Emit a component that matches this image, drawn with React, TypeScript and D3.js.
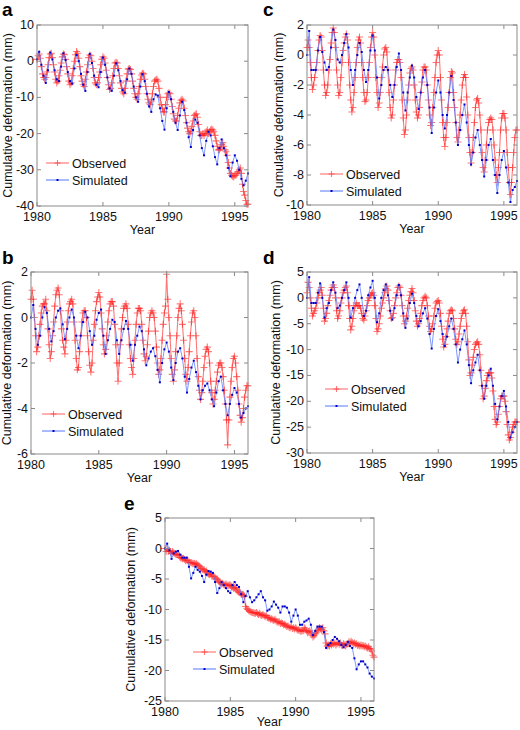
import React from "react";
import * as d3 from "d3";

// ---------- data ----------
const xTickYears = [1980, 1985, 1990, 1995];
const legendLabels = ["Observed", "Simulated"];
const yTitle = "Cumulative deformation (mm)";
const xTitle = "Year";

// observed: monthly from Jan 1980; simulated: bimonthly from Jan 1980
const obsA = [
  0.5, 1.5, 2.0, 0.8, -1.5, -3.5, -4.5, -5.0, -4.5, -3.0, -1.0, 1.0,
  2.0, 2.2, 1.0, -1.0, -3.0, -5.0, -6.0, -5.5, -4.0, -2.5, -0.5, 1.2,
  2.0, 1.8, 0.5, -1.5, -3.5, -5.5, -6.5, -6.0, -4.0, -2.0, 0.0, 1.8,
  2.7, 2.2, 0.8, -1.5, -4.0, -5.5, -6.5, -7.0, -5.0, -3.0, -1.0, 1.0,
  1.7, 1.5, 0.0, -2.0, -4.5, -6.0, -6.5, -6.0, -4.5, -3.0, -1.0, 0.5,
  1.2, 0.8, -0.5, -2.5, -4.5, -6.5, -7.8, -7.5, -6.0, -4.0, -2.0, -0.5,
  -0.3, -0.5, -2.0, -4.0, -6.0, -7.5, -8.5, -9.0, -7.5, -5.5, -3.5, -2.2,
  -2.0, -2.3, -3.5, -5.5, -7.5, -9.0, -10.0, -10.5, -9.0, -7.0, -5.0, -3.8,
  -3.3, -3.5, -5.0, -7.0, -9.0, -10.5, -11.5, -12.0, -11.0, -9.0, -7.0, -5.5,
  -5.2, -5.0, -5.5, -7.5, -10.0, -12.0, -13.0, -14.0, -14.0, -12.0, -10.0, -9.0,
  -8.7, -9.0, -10.5, -12.5, -14.5, -16.0, -16.5, -16.5, -15.0, -13.0, -11.5, -10.8,
  -10.5, -11.0, -13.0, -15.0, -17.0, -18.5, -19.5, -20.0, -19.5, -18.0, -16.5, -15.0,
  -14.8, -14.5, -15.5, -17.5, -19.5, -20.5, -20.5, -20.0, -20.5, -20.0, -19.5, -19.0,
  -20.0, -19.5, -19.0, -18.8, -19.0, -19.5, -20.5, -22.0, -23.5, -24.5, -24.5, -24.0,
  -23.0, -22.5, -23.5, -24.5, -25.0, -26.0, -28.0, -29.5, -31.0, -31.5, -31.8, -32.0,
  -31.5, -31.5, -31.0, -30.5, -30.0, -29.5, -31.0, -34.0, -36.0, -37.0, -38.5, -39.5,
  -39.5,
];
const simA = [
  0.5, 2.6, -1.0, -4.0, -6.0, -2.5,
  2.4, 0.5, -2.5, -5.0, -5.5, -1.5,
  2.2, 0.3, -3.0, -5.5, -6.2, -2.0,
  1.7, 0.0, -3.5, -6.5, -8.2, -3.0,
  2.0, -0.5, -4.0, -6.5, -7.2, -3.0,
  1.0, -1.0, -4.5, -7.5, -8.2, -4.0,
  -0.6, -2.5, -5.5, -8.0, -8.7, -5.0,
  -2.0, -3.5, -7.0, -10.0, -11.2, -7.0,
  -3.6, -5.5, -9.0, -12.5, -14.0, -10.5,
  -9.2, -9.5, -13.0, -16.5, -18.9, -13.0,
  -8.5, -10.5, -14.0, -17.0, -19.0, -15.0,
  -11.2, -13.5, -17.0, -21.0, -23.7, -19.0,
  -16.1, -17.0, -20.5, -24.0, -26.0, -22.0,
  -19.5, -20.5, -23.5, -26.5, -28.5, -24.0,
  -21.6, -24.0, -26.0, -29.5, -31.8, -28.0,
  -26.0, -27.5, -30.0, -32.5, -34.3, -33.0,
  -31.0,
];

const obsC = [
  0.5, 1.0, 0.5, -0.5, -1.5, -2.3, -2.0, -1.5, -1.0, -0.5, 0.3, 1.0,
  1.3, 1.2, 0.3, -1.0, -2.0, -2.7, -2.5, -2.0, -1.0, -0.3, 0.8, 1.5,
  1.8, 1.5, 0.5, -1.0, -2.0, -2.7, -2.5, -1.5, -0.5, 0.3, 0.8, 1.2,
  1.4, 1.0, -0.5, -2.0, -3.0, -3.8, -3.5, -2.5, -1.5, -0.5, 0.5, 1.0,
  1.2, 0.8, -0.5, -1.5, -2.5, -3.1, -3.0, -2.5, -1.5, -0.5, 0.5, 1.2,
  1.5, 1.2, 0.0, -1.5, -2.5, -3.5, -3.2, -2.5, -1.5, -0.8, 0.0, 0.4,
  0.5, 0.2, -1.0, -2.5, -3.5, -4.2, -4.0, -3.0, -2.0, -1.0, -0.5, -0.3,
  -0.3, -0.5, -1.5, -3.0, -4.2, -5.3, -5.0, -4.0, -3.0, -2.0, -1.2, -0.9,
  -0.8, -1.0, -2.0, -3.0, -3.8, -4.2, -4.0, -3.5, -2.5, -1.8, -1.0, -0.8,
  -0.8, -1.0, -2.0, -3.0, -4.0, -4.7, -4.5, -3.5, -2.5, -1.5, -0.5, 0.0,
  0.3, 0.0, -1.5, -3.0, -4.5, -5.5, -6.1, -5.5, -4.5, -3.5, -2.5, -1.5,
  -1.1, -1.2, -2.5, -3.5, -4.5, -5.5, -5.8, -5.0, -4.0, -3.0, -2.0, -1.5,
  -1.3, -1.5, -2.8, -4.0, -5.5, -6.5, -7.2, -6.5, -5.5, -4.5, -3.5, -3.0,
  -2.9, -3.2, -4.0, -5.0, -6.5, -7.5, -7.8, -7.0, -6.0, -5.0, -4.5, -4.3,
  -4.2, -4.3, -5.0, -6.0, -7.0, -8.0, -8.5, -7.5, -6.5, -5.0, -4.2, -3.9,
  -3.9, -4.2, -5.0, -6.5, -7.5, -8.5, -9.3, -8.5, -7.5, -6.5, -5.5, -5.0,
  -5.0,
];
const simC = [
  0.0, 1.6, -1.0, -1.0, -1.0, 0.3,
  1.2, 0.2, -0.5, -1.0, -0.8, 0.5,
  1.7, 1.0, -0.3, -0.5, 0.0, 0.8,
  1.4, 0.5, -1.0, -2.0, -1.0, 0.0,
  0.8, 0.2, -1.0, -1.8, -1.0, 0.3,
  1.3, 0.3, -1.5, -2.9, -2.0, -1.0,
  -0.8, -1.0, -2.0, -2.8, -2.0, -0.8,
  0.1, -1.0, -2.5, -3.7, -2.5, -1.5,
  -0.7, -1.5, -2.8, -3.6, -2.5, -1.5,
  -1.0, -2.0, -3.5, -5.2, -3.5, -2.5,
  -1.7, -2.5, -4.0, -4.9, -4.0, -2.5,
  -1.4, -3.0, -4.5, -6.0, -5.0, -4.0,
  -3.3, -4.5, -6.0, -7.3, -6.5, -5.5,
  -5.0, -6.0, -7.0, -8.1, -7.0, -6.0,
  -5.6, -7.0, -8.0, -9.2, -8.0, -7.0,
  -6.4, -7.5, -8.5, -9.8, -9.0, -8.8,
  -8.4,
];

const obsB = [
  0.8, 1.2, 0.8, 0.0, -0.8, -1.5, -1.3, -0.8, -0.3, 0.2, 0.5, 0.6,
  0.6, 0.8, 0.3, -0.5, -1.2, -1.8, -1.5, -0.8, -0.2, 0.5, 1.0, 1.2,
  1.3, 1.0, 0.3, -0.5, -1.0, -1.3, -1.6, -1.0, -0.2, 0.3, 0.6, 0.7,
  0.8, 0.6, -0.2, -1.0, -1.8, -2.3, -2.2, -1.5, -0.8, -0.2, 0.2, 0.3,
  0.3, 0.0, -0.8, -1.5, -2.1, -2.4, -2.0, -1.0, -0.3, 0.3, 0.7, 0.9,
  1.1, 0.9, 0.2, -0.5, -1.2, -1.6, -1.4, -0.8, -0.2, 0.3, 0.6, 0.7,
  0.7, 0.5, -0.3, -1.2, -2.0, -2.8, -2.0, -1.2, -0.5, 0.0, 0.4, 0.5,
  0.6, 0.4, -0.3, -1.2, -1.8, -2.2, -2.5, -1.8, -1.0, -0.3, 0.2, 0.4,
  0.4, 0.3, -0.3, -1.0, -1.6, -1.9, -1.7, -1.2, -0.6, 0.0, 0.2, 0.3,
  0.2, 0.0, -0.6, -1.3, -2.0, -2.5, -2.3, -1.8, -1.0, -0.3, 0.2, 0.5,
  1.9, 0.8, 0.0, -0.8, -1.8, -2.5, -2.8, -2.3, -1.5, -0.8, 0.0, 0.4,
  0.6, 0.3, -0.3, -1.0, -1.8, -2.5, -2.8, -2.2, -1.5, -0.8, -0.2, 0.2,
  0.3, 0.0, -0.8, -1.8, -2.6, -3.2, -3.6, -3.3, -2.8, -2.2, -1.7, -1.4,
  -1.3, -1.5, -2.0, -2.8, -3.3, -3.8, -3.6, -3.2, -2.8, -2.4, -2.1, -2.0,
  -2.0, -2.2, -2.6, -3.2, -3.8, -4.5, -5.6, -4.5, -3.5, -2.8, -2.2, -1.8,
  -1.7, -2.0, -2.6, -3.2, -3.8, -4.3, -4.6, -4.4, -4.0, -3.5, -3.2, -3.0,
  -3.0,
];
const simB = [
  0.0, 0.55, -0.5, -1.2, -0.8, 0.0,
  0.45, 0.2, -0.5, -1.05, -0.6, 0.0,
  0.3, 0.4, -0.3, -0.95, -0.5, 0.0,
  0.35, 0.0, -0.8, -1.35, -0.8, -0.2,
  0.25, 0.0, -0.6, -1.2, -0.8, -0.1,
  0.2, 0.35, -0.8, -1.6, -1.0, -0.5,
  -0.1, -0.2, -1.0, -1.6, -1.0, -0.5,
  -0.15, -0.5, -1.2, -1.9, -1.2, -0.8,
  -0.4, -0.6, -1.4, -2.1, -1.8, -1.5,
  -1.35, -1.7, -2.3, -2.85, -2.0, -1.4,
  -1.1, -1.5, -2.2, -2.75, -2.0, -1.5,
  -1.35, -1.8, -2.6, -3.3, -2.7, -2.2,
  -1.9, -2.4, -3.0, -3.6, -3.2, -3.0,
  -2.9, -3.2, -3.6, -3.9, -3.3, -2.8,
  -2.6, -3.2, -3.8, -4.3, -3.8, -3.4,
  -3.1, -3.3, -3.8, -4.4, -4.2, -4.0,
  -3.9,
];

const obsD = [
  1.0, 3.0, 2.0, 0.0, -2.0, -3.5, -3.0, -2.5, -2.0, -1.0, 0.0, 1.0,
  1.5, 2.0, 0.5, -2.0, -4.5, -4.0, -3.0, -1.5, -0.5, 0.5, 1.5, 2.0,
  2.5, 2.0, 0.0, -2.5, -4.0, -3.5, -2.5, -1.0, 0.0, 1.0, 1.5, 2.0,
  2.3, 1.0, -1.5, -4.0, -6.2, -5.5, -4.0, -2.5, -1.5, -1.0, -1.5, -1.5,
  -1.5, -2.0, -3.0, -4.0, -4.3, -3.5, -2.5, -1.5, -0.5, 0.0, 0.5, 0.8,
  1.0, 0.5, -1.5, -4.0, -6.5, -6.0, -5.0, -3.5, -2.0, -1.0, 0.0, 1.0,
  1.8, 2.3, 1.5, -0.5, -2.5, -4.0, -3.8, -3.0, -1.5, 0.0, 1.0, 2.0,
  2.3, 2.0, 0.5, -1.5, -3.5, -5.0, -4.5, -3.5, -2.0, -0.5, 0.5, 1.2,
  1.8, 1.0, -0.5, -2.5, -4.5, -5.5, -5.0, -4.0, -3.0, -1.5, -0.5, 0.0,
  0.3, 0.0, -1.5, -3.5, -5.5, -6.5, -6.0, -5.0, -3.5, -2.0, -1.0, -0.7,
  -0.5, -1.0, -3.0, -5.5, -8.0, -9.5, -9.0, -7.5, -6.0, -4.5, -3.0, -2.5,
  -2.3, -2.5, -4.0, -6.0, -8.0, -9.0, -8.5, -7.0, -5.5, -4.0, -3.0, -2.5,
  -2.3, -3.0, -5.5, -8.5, -12.0, -15.0, -14.5, -13.0, -11.5, -10.0, -9.0, -8.7,
  -8.5, -9.0, -11.0, -14.0, -17.0, -19.5, -19.0, -17.5, -16.0, -15.0, -14.5, -14.5,
  -14.5, -15.5, -18.0, -21.0, -23.5, -24.5, -24.0, -22.5, -21.0, -19.5, -19.0, -19.0,
  -19.0, -20.0, -22.0, -24.5, -26.5, -27.5, -27.0, -26.0, -25.0, -24.5, -24.0, -24.0,
  -24.0,
];
const simD = [
  0.0, 4.0, -1.0, -1.0, -1.0, 1.0,
  2.8, 0.0, -3.8, -2.0, -1.0, 1.5,
  3.0, 1.0, -2.0, -1.5, 0.0, 1.5,
  3.0, 0.0, -3.8, -2.0, 0.0, 1.5,
  2.6, 0.0, -3.5, -2.5, 0.5, 2.0,
  3.3, 0.0, -4.7, -3.0, 0.0, 1.5,
  2.6, 0.5, -2.5, -4.2, -2.0, 0.5,
  2.5, 0.5, -3.0, -5.8, -4.0, -1.0,
  0.8, -1.0, -3.5, -5.5, -4.5, -3.0,
  -2.0, -4.0, -7.0, -9.8, -6.0, -3.5,
  -2.2, -4.5, -7.0, -9.3, -7.5, -5.5,
  -4.0, -6.0, -9.0, -12.5, -10.0, -8.0,
  -6.3, -9.0, -13.0, -16.5, -14.0, -12.5,
  -11.0, -14.0, -17.0, -19.5, -17.0, -15.0,
  -13.7, -17.0, -20.5, -23.5, -21.0, -19.0,
  -18.0, -21.0, -24.0, -27.0, -26.0, -25.0,
  -24.0,
];

const obsE = [
  0.0, -0.5, 0.0, -0.5, -0.3, -0.5, -0.8, -0.5, -0.7, -0.8, -1.0, -1.0,
  -1.0, -1.2, -1.5, -1.5, -1.7, -1.6, -1.8, -2.0, -1.9, -2.0, -2.2, -2.3,
  -2.3, -2.4, -2.5, -2.4, -2.6, -2.5, -2.7, -2.8, -3.0, -3.2, -3.3, -3.5,
  -3.5, -3.8, -3.7, -4.0, -4.2, -4.3, -4.2, -4.5, -4.5, -4.6, -4.8, -5.0,
  -5.0, -5.3, -5.5, -5.6, -5.8, -5.7, -5.9, -6.0, -5.8, -6.0, -6.1, -6.0,
  -6.0, -6.2, -6.3, -6.5, -6.4, -6.6, -6.8, -7.0, -7.2, -7.3, -7.5, -7.5,
  -7.6, -7.8, -9.5, -9.8, -10.0, -10.2, -10.3, -10.4, -10.5, -10.5, -10.6, -10.6,
  -10.5, -10.7, -10.8, -10.6, -10.9, -11.0, -10.8, -11.0, -11.2, -11.0, -11.3, -11.4,
  -11.4, -11.6, -11.5, -11.7, -11.8, -11.6, -11.9, -12.0, -12.1, -12.0, -12.3, -12.2,
  -12.3, -12.5, -12.4, -12.6, -12.8, -12.7, -12.9, -13.0, -12.8, -13.1, -13.0, -13.2,
  -13.0, -13.2, -13.4, -13.3, -13.5, -13.6, -13.4, -13.5, -13.0, -13.2, -13.5, -13.8,
  -13.6, -13.5, -13.8, -14.2, -14.5, -14.3, -14.0, -13.8, -13.5, -13.2, -13.0, -13.2,
  -13.3, -13.0, -13.5, -14.0, -15.5, -16.0, -15.8, -16.0, -15.6, -15.8, -15.5, -15.7,
  -15.5, -15.8, -15.6, -15.4, -15.7, -15.5, -15.8, -15.9, -15.6, -15.8, -16.0, -15.7,
  -15.6, -15.3, -15.5, -15.2, -15.4, -15.6, -15.5, -15.7, -15.6, -15.9, -15.8, -16.0,
  -15.8, -16.0, -15.9, -16.1, -16.0, -16.2, -16.3, -16.1, -16.4, -16.5, -16.8, -17.5,
  -17.8,
];
const simE = [
  0.0, 0.8, -0.3, -1.7, -0.8, -0.5,
  -0.4, -1.0, -1.5, -1.5, -1.5, -3.0,
  -4.9, -4.0, -3.0, -3.5, -3.8, -4.5,
  -5.5, -4.3, -3.7, -3.8, -4.0, -5.5,
  -7.3, -6.5, -5.5, -6.0, -6.5, -7.0,
  -7.3, -6.0, -5.5, -6.0, -6.3, -7.5,
  -8.8, -7.8, -7.0, -8.0, -8.8, -8.5,
  -8.0, -7.5, -7.0, -8.0, -8.5, -10.2,
  -10.0, -9.5, -8.7, -9.2, -9.7, -10.5,
  -9.5, -9.5, -9.7, -10.5, -12.0, -11.0,
  -10.0, -11.0, -12.5, -12.5, -12.0, -11.8,
  -11.5, -12.5, -14.2, -13.5, -12.8, -12.8,
  -12.8, -13.7, -16.3, -15.8, -15.5, -15.0,
  -14.5, -14.8, -15.2, -15.8, -16.2, -15.8,
  -15.3, -16.0, -16.3, -18.0, -19.8, -19.0,
  -18.5, -18.5, -19.0, -19.5, -20.5, -21.0,
  -21.3,
];

// ---------- layout ----------
type Spec = {
  letter: string;
  obs: number[];
  sim: number[];
  domain: [number, number];
  step: number;
  x0: number; x1: number; y0: number; y1: number;
  letterX: number; letterY: number;
  titleX: number;
  legX: number; legY: number;
  yearDy: number;
};

const specs: Spec[] = [
  { letter: "a", obs: obsA, sim: simA, domain: [-40, 10], step: 10, x0: 37, x1: 248, y0: 25, y1: 206, letterX: 2, letterY: 16, titleX: 12, legX: 46, legY: 163, yearDy: 28 },
  { letter: "c", obs: obsC, sim: simC, domain: [-10, 2], step: 2, x0: 307, x1: 517, y0: 25, y1: 205, letterX: 263, letterY: 16, titleX: 283, legX: 320, legY: 174, yearDy: 28 },
  { letter: "b", obs: obsB, sim: simB, domain: [-6, 2], step: 2, x0: 31, x1: 248, y0: 272, y1: 454, letterX: 2, letterY: 264, titleX: 11, legX: 42, legY: 414, yearDy: 28 },
  { letter: "d", obs: obsD, sim: simD, domain: [-30, 5], step: 5, x0: 307, x1: 517, y0: 272, y1: 453, letterX: 263, letterY: 264, titleX: 280, legX: 325, legY: 389, yearDy: 28 },
  { letter: "e", obs: obsE, sim: simE, domain: [-25, 5], step: 5, x0: 165, x1: 374, y0: 518, y1: 701, letterX: 124, letterY: 510, titleX: 135, legX: 193, legY: 652, yearDy: 25 },
];

const FONT = "'Liberation Sans', Arial, Helvetica, sans-serif";
const RED = "#ff2020";
const BLUE = "#5577ff";
const DOT = "#0000cc";
const AXIS = "#8a8a8a";

function Plus({ x, y, s = 3.5 }: { x: number; y: number; s?: number }) {
  return (
    <path d={`M${x - s},${y}H${x + s}M${x},${y - s}V${y + s}`} stroke={RED} strokeWidth={1.1} strokeOpacity={0.6} />
  );
}

function Panel({ spec, idx }: { spec: Spec; idx: number }) {
  const x = d3.scaleLinear().domain([1980, 1996]).range([spec.x0, spec.x1]);
  const y = d3.scaleLinear().domain(spec.domain).range([spec.y1, spec.y0]);
  const obsPts: [number, number][] = spec.obs.map((v, i) => [1980 + i / 12, v]);
  const simPts: [number, number][] = spec.sim.map((v, i) => [1980 + i / 6, v]);
  const line = d3.line<[number, number]>().x((d) => x(d[0])).y((d) => y(d[1]));
  const yTicks = d3.range(spec.domain[0], spec.domain[1] + spec.step / 2, spec.step);
  const clipId = `clip${idx}`;
  const tl = 4;
  const midY = (spec.y0 + spec.y1) / 2;
  return (
    <g>
      <defs>
        <clipPath id={clipId}>
          <rect x={spec.x0 - 4} y={spec.y0 - 4} width={spec.x1 - spec.x0 + 8} height={spec.y1 - spec.y0 + 8} />
        </clipPath>
      </defs>
      <text x={spec.letterX} y={spec.letterY} fontFamily={FONT} fontWeight="bold" fontSize={19} fill="#000">
        {spec.letter}
      </text>
      <rect x={spec.x0} y={spec.y0} width={spec.x1 - spec.x0} height={spec.y1 - spec.y0} fill="#fff" />
      <g clipPath={`url(#${clipId})`}>
        <path d={line(obsPts) || ""} fill="none" stroke={RED} strokeWidth={1.1} strokeOpacity={0.6} />
        {obsPts.map((p, i) => (
          <Plus key={i} x={x(p[0])} y={y(p[1])} />
        ))}
        <path d={line(simPts) || ""} fill="none" stroke={BLUE} strokeWidth={0.9} strokeOpacity={0.85} />
        {simPts.map((p, i) => (
          <rect key={i} x={x(p[0]) - 1} y={y(p[1]) - 1} width={2} height={2} fill={DOT} />
        ))}
      </g>
      {/* frame */}
      <rect x={spec.x0} y={spec.y0} width={spec.x1 - spec.x0} height={spec.y1 - spec.y0} fill="none" stroke={AXIS} strokeWidth={1} />
      {xTickYears.map((yr) => (
        <g key={yr}>
          <line x1={x(yr)} x2={x(yr)} y1={spec.y1} y2={spec.y1 - tl} stroke={AXIS} />
          <line x1={x(yr)} x2={x(yr)} y1={spec.y0} y2={spec.y0 + tl} stroke={AXIS} />
          <text x={x(yr)} y={spec.y1 + 15} textAnchor="middle" fontFamily={FONT} fontSize={12.5} fill="#111">
            {yr}
          </text>
        </g>
      ))}
      {yTicks.map((v) => (
        <g key={v}>
          <line x1={spec.x0} x2={spec.x0 + tl} y1={y(v)} y2={y(v)} stroke={AXIS} />
          <line x1={spec.x1} x2={spec.x1 - tl} y1={y(v)} y2={y(v)} stroke={AXIS} />
          <text x={spec.x0 - 3} y={y(v) + 4} textAnchor="end" fontFamily={FONT} fontSize={12.5} fill="#111">
            {v}
          </text>
        </g>
      ))}
      <text x={(spec.x0 + spec.x1) / 2} y={spec.y1 + spec.yearDy} textAnchor="middle" fontFamily={FONT} fontSize={12.5} fill="#111">
        {xTitle}
      </text>
      <text
        transform={`translate(${spec.titleX},${midY}) rotate(-90)`}
        textAnchor="middle"
        fontFamily={FONT}
        fontSize={12.5}
        fill="#111"
      >
        {yTitle}
      </text>
      {/* legend */}
      <g>
        <line x1={spec.legX} x2={spec.legX + 23} y1={spec.legY} y2={spec.legY} stroke={RED} strokeOpacity={0.7} strokeWidth={1} />
        <Plus x={spec.legX + 11.5} y={spec.legY} s={3} />
        <text x={spec.legX + 26} y={spec.legY + 4.5} fontFamily={FONT} fontSize={12.5} fill="#111">
          {legendLabels[0]}
        </text>
        <line x1={spec.legX} x2={spec.legX + 23} y1={spec.legY + 17} y2={spec.legY + 17} stroke={BLUE} strokeWidth={1} />
        <rect x={spec.legX + 10.5} y={spec.legY + 16} width={2} height={2} fill={DOT} />
        <text x={spec.legX + 26} y={spec.legY + 21.5} fontFamily={FONT} fontSize={12.5} fill="#111">
          {legendLabels[1]}
        </text>
      </g>
    </g>
  );
}

export default function App() {
  return (
    <svg width={520} height={730} style={{ position: "absolute", left: 0, top: 0, background: "#fff" }}>
      <rect x={0} y={0} width={520} height={730} fill="#fff" />
      {specs.map((s, i) => (
        <Panel key={s.letter} spec={s} idx={i} />
      ))}
    </svg>
  );
}
